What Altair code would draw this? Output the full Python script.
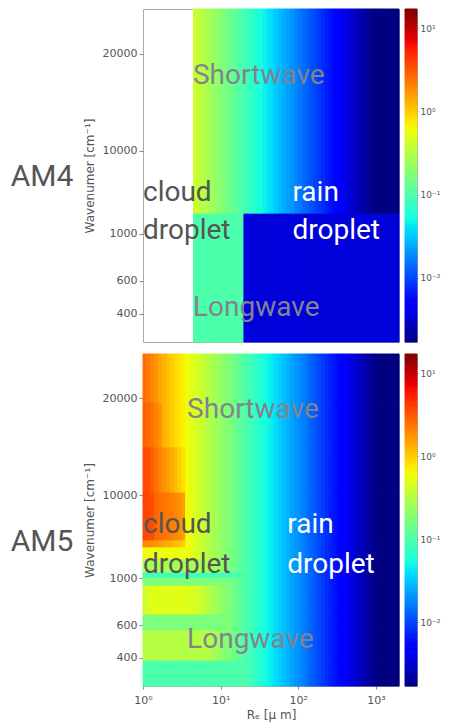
import math
import altair as alt
import pandas as pd

# ---------------- data ----------------
# Re bin edges [um] (log-spaced columns of the heat map)
RE_EDGES = [1.000, 1.122, 1.259, 1.413, 1.585, 1.778, 1.995, 2.239, 2.512, 2.818,
            3.162, 3.548, 3.981, 4.467, 5.012, 5.623, 6.310, 7.079, 7.943, 8.913,
            10.00, 11.22, 12.59, 14.13, 15.85, 17.78, 19.95, 22.39, 25.12, 28.18,
            31.62, 35.48, 39.81, 44.67, 50.12, 56.23, 63.10, 70.79, 79.43, 89.13,
            100.0, 112.2, 125.9, 141.3, 158.5, 177.8, 199.5, 223.9, 251.2, 281.8,
            316.2, 354.8, 398.1, 446.7, 501.2, 562.3, 631.0, 707.9, 794.3, 891.3,
            1000, 1122, 1259, 1413, 1585, 1778, 1980]

# common decay with Re (AM5), one value per column
COMMON = [2.37, 2.10, 1.86, 1.64, 1.46, 1.29, 1.15, 1.01, 0.90, 0.80,
          0.71, 0.63, 0.55, 0.49, 0.44, 0.39, 0.34, 0.30, 0.27, 0.24,
          0.21, 0.19, 0.17, 0.15, 0.13, 0.115, 0.102, 0.090, 0.080, 0.071,
          0.063, 0.056, 0.049, 0.044, 0.039, 0.034, 0.030, 0.027, 0.024, 0.021,
          0.019, 0.017, 0.015, 0.013, 0.0116, 0.0103, 0.0091, 0.0081, 0.0071, 0.0063,
          0.0056, 0.0050, 0.0044, 0.0039, 0.0035, 0.0031, 0.0027, 0.0024, 0.0021, 0.0019,
          0.0017, 0.0017, 0.0017, 0.0017, 0.0017, 0.0017]

# AM4: shortwave and longwave (no values below Re ~ 4.4 um)
AM4_SW = [None] * 13 + [0.41, 0.37, 0.33, 0.29, 0.26, 0.23, 0.205,
                        0.18, 0.16, 0.145, 0.128, 0.113, 0.100, 0.088, 0.078, 0.069, 0.061,
                        0.054, 0.048, 0.042, 0.038, 0.033, 0.029, 0.026, 0.023, 0.0205, 0.018,
                        0.016, 0.0143, 0.0127, 0.0113, 0.0100, 0.0089, 0.0079, 0.0070, 0.0062, 0.0055,
                        0.0049, 0.0043, 0.0038, 0.0034, 0.0030, 0.0027, 0.0024, 0.0021, 0.0019, 0.0017,
                        0.0017, 0.0017, 0.0017, 0.0017, 0.0017, 0.0017]
AM4_LW = [None] * 13 + [0.10] * 13 + [0.0035] * 40
AM4_BAND_EDGES = [100, 38.4, 0]          # band positions (top -> bottom)
AM4_PROFILES = [AM4_SW, AM4_LW]

# AM5: band-wise values at small Re, then the common decay
AM5_BAND_EDGES = [100, 85.2, 71.7, 58.1, 43.7, 41.6, 38.0, 34.0, 32.5, 30.1, 21.4, 16.6, 7.5, 0]
AM5_HEADS = [
    [2.6, 2.3, 2.0, 1.75],
    [2.9, 2.7, 2.4, 2.1, 1.8],
    [3.6, 3.4, 3.0, 2.5, 2.1, 1.8, 1.6, 1.4, 1.2, 1.0, 0.85],
    [3.8, 3.7, 3.5, 2.7, 2.5, 2.4, 2.3, 2.2, 2.0, 1.8, 1.6],
    [2.0, 1.9, 1.8, 1.7, 1.6, 1.5, 1.4, 1.3, 1.2, 1.1, 1.0],
    [0.60] * 12,
    [0.27] * 18 + [0.25, 0.23, 0.21, 0.19, 0.17, 0.15, 0.13, 0.115, 0.10, 0.09],
    [0.085] * 22 + [0.09] * 6,
    [0.17] * 22,
    [0.42, 0.46] + [0.52] * 9 + [0.50, 0.48, 0.45],
    [0.17] * 22,
    [0.32] * 17,
    [0.10] * 27,
]
AM5_PROFILES = [h + COMMON[len(h):] for h in AM5_HEADS]

# y axis: band position -> wavenumber label
TICK_POS = [8.55, 18.35, 32.45, 57.45, 86.6]
TICK_LABELS = ["400", "600", "1000", "10000", "20000"]

X_TICKS = [1, 10, 100, 1000]
X_TICK_LABELS = ["10\u2070", "10\u00b9", "10\u00b2", "10\u00b3"]
CB_TICKS = [0.01, 0.1, 1, 10]
CB_TICK_LABELS = ["10\u207b\u00b2", "10\u207b\u00b9", "10\u2070", "10\u00b9"]
CB_MIN, CB_MAX = 0.0017, 17.0

# annotation texts: (text, Re, band position, colour)
AM4_TEXT = [("Shortwave", 4.4, 77.5, "#83838f"), ("Longwave", 4.4, 7.8, "#83838f"),
            ("cloud", 1.0, 42.3, "#555555"), ("droplet", 1.0, 30.9, "#555555"),
            ("rain", 84, 42.3, "#ffffff"), ("droplet", 84, 30.9, "#ffffff")]
AM5_TEXT = [("Shortwave", 3.7, 80.7, "#83838f"), ("Longwave", 3.7, 11.4, "#83838f"),
            ("cloud", 1.0, 46.1, "#555555"), ("droplet", 1.0, 34.0, "#555555"),
            ("rain", 72, 46.1, "#ffffff"), ("droplet", 72, 34.0, "#ffffff")]

# ---------------- scales ----------------
lo, hi = math.log10(CB_MIN), math.log10(CB_MAX)
JET_T = [0, 0.11, 0.125, 0.34, 0.35, 0.375, 0.64, 0.65, 0.66, 0.89, 0.91, 1]
JET_C = ["#000080", "#0000ff", "#0000ff", "#00dbff", "#00e6f7", "#15ffe2",
         "#efff08", "#f7f500", "#ffec00", "#ff1300", "#e80000", "#800000"]

PW = 256   # plot width


def cscale():
    return alt.Scale(type="log", domain=[10 ** (lo + t * (hi - lo)) for t in JET_T],
                     range=JET_C, clamp=True, interpolate="rgb")


def cells(edges, profiles):
    rows = []
    for b, prof in enumerate(profiles):
        for i, v in enumerate(prof):
            if v is None:
                continue
            rows.append({"re_lo": RE_EDGES[i], "re_hi": RE_EDGES[i + 1],
                         "pos_hi": edges[b], "pos_lo": edges[b + 1], "value": v})
    return pd.DataFrame(rows)


def chain(vals, labels, var="datum.value"):
    expr = "'%s'" % labels[-1]
    for k in range(len(vals) - 2, -1, -1):
        mid = (vals[k] + vals[k + 1]) / 2
        expr = "%s < %g ? '%s' : (%s)" % (var, mid, labels[k], expr)
    return expr


def panel(edges, profiles, texts, name, name_y, h, show_x):
    xscale = alt.Scale(type="log", domain=[1, 1980], nice=False)
    yscale = alt.Scale(domain=[0, 100], nice=False, zero=False)
    if show_x:
        xaxis = alt.Axis(values=X_TICKS, labelExpr=chain(X_TICKS, X_TICK_LABELS),
                         title="R\u2091 [\u03bc m]", titlePadding=4, tickSize=3, labelPadding=5,
                         labelFlush=False)
    else:
        xaxis = None
    yaxis = alt.Axis(values=TICK_POS, labelExpr=chain(TICK_POS, TICK_LABELS),
                     title="Wavenumer [cm\u207b\u00b9]", titlePadding=6, tickSize=4, labelPadding=2)
    rect = alt.Chart(cells(edges, profiles)).mark_rect(strokeWidth=1).encode(
        x=alt.X("re_lo:Q", scale=xscale, axis=xaxis),
        x2="re_hi:Q",
        y=alt.Y("pos_lo:Q", scale=yscale, axis=yaxis),
        y2="pos_hi:Q",
        color=alt.Color("value:Q", scale=cscale(), legend=None),
        stroke=alt.Stroke("value:Q", scale=cscale(), legend=None),
    )
    tdf = pd.DataFrame(texts, columns=["text", "re", "pos", "col"])
    txt = alt.Chart(tdf).mark_text(align="left", baseline="alphabetic", font="Roboto",
                                   fontSize=28).encode(
        x=alt.X("re:Q", scale=xscale, axis=xaxis),
        y=alt.Y("pos:Q", scale=yscale, axis=yaxis),
        text="text:N",
        color=alt.Color("col:N", scale=None),
    )
    lab = alt.Chart(pd.DataFrame({"t": [name]})).mark_text(
        font="Roboto", fontSize=30, align="center", baseline="alphabetic", color="#555555"
    ).encode(x=alt.value(-101), y=alt.value(name_y), text="t:N")
    return alt.layer(rect, txt, lab).properties(width=PW, height=h)


def colorbar(h):
    n = 200
    rows = []
    for k in range(n):
        rows.append({"y0": 10 ** (lo + k * (hi - lo) / n), "y1": 10 ** (lo + (k + 1) * (hi - lo) / n),
                     "v": 10 ** (lo + (k + 0.5) * (hi - lo) / n)})
    return alt.Chart(pd.DataFrame(rows)).mark_rect(strokeWidth=1).encode(
        x=alt.value(0), x2=alt.value(12),
        y=alt.Y("y0:Q", scale=alt.Scale(type="log", domain=[CB_MIN, CB_MAX], nice=False),
                axis=alt.Axis(orient="right", values=CB_TICKS, title=None, tickSize=1,
                              labelPadding=2, labelFontSize=9,
                              labelExpr=chain(CB_TICKS, CB_TICK_LABELS))),
        y2="y1:Q",
        color=alt.Color("v:Q", scale=cscale(), legend=None),
        stroke=alt.Stroke("v:Q", scale=cscale(), legend=None),
    ).properties(width=12, height=h)


row4 = alt.hconcat(panel(AM4_BAND_EDGES, AM4_PROFILES, AM4_TEXT, "AM4", 177, 333, False),
                   colorbar(333), spacing=4)
row5 = alt.hconcat(panel(AM5_BAND_EDGES, AM5_PROFILES, AM5_TEXT, "AM5", 197, 332, True),
                   colorbar(332), spacing=4)

chart = alt.vconcat(row4, row5, spacing=10).properties(
    padding={"left": 2, "top": 0, "right": 0, "bottom": 2}
).configure_view(stroke="#aaaaaa", strokeWidth=1).configure_axis(
    labelFont="DejaVu Sans", labelColor="#555555", labelFontSize=11,
    titleFont="DejaVu Sans", titleColor="#555555", titleFontSize=12, titleFontWeight="normal",
    tickColor="#888888", domain=False, grid=False
)

chart.save("out.html", embed_options={"renderer": "svg", "actions": False})
